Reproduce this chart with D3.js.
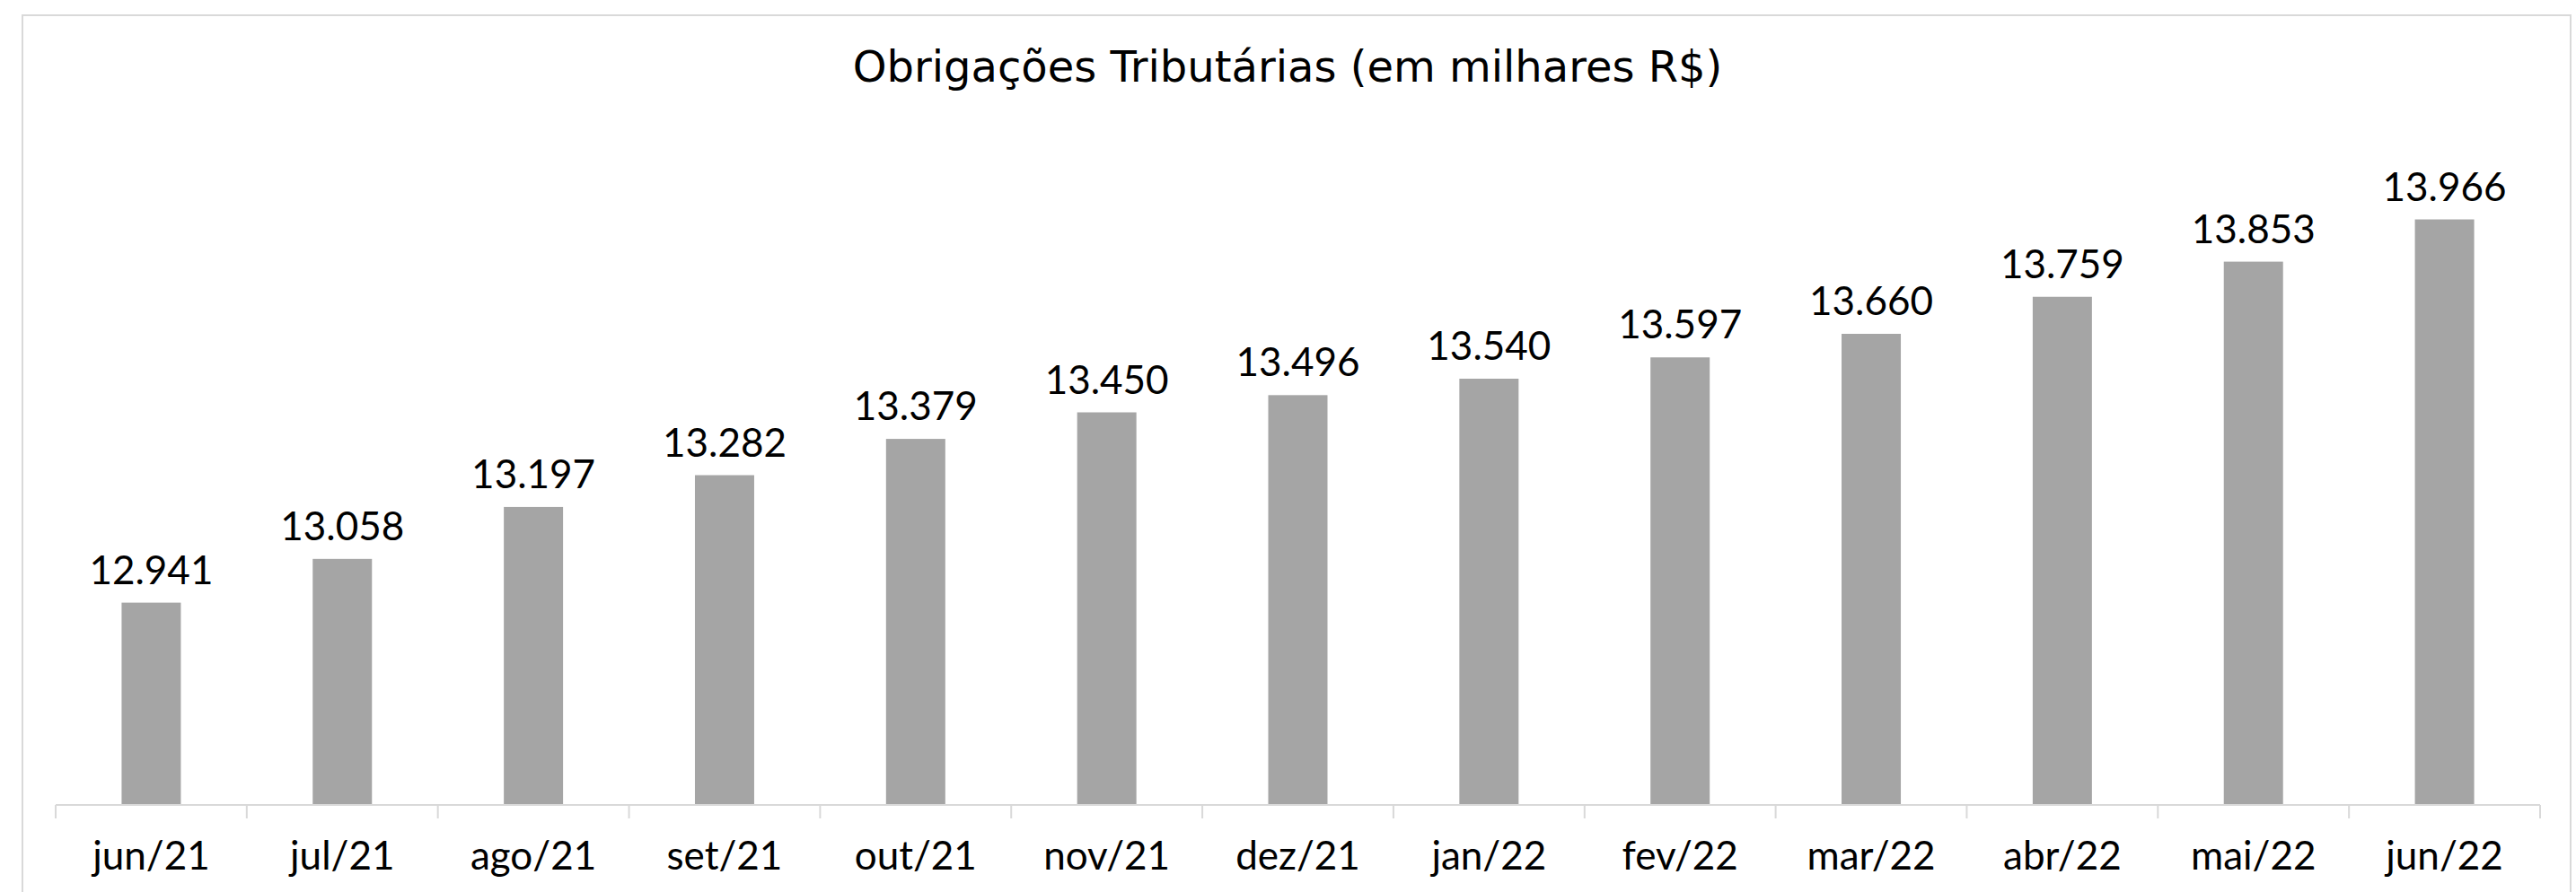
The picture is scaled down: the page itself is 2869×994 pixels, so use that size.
<!DOCTYPE html>
<html>
<head>
    <meta charset="utf-8">
    <title>Obrigações Tributárias</title>
    <style>
        body {
            margin: 0;
            background: #ffffff;
        }
        svg {
            display: block;
        }
        .bar {
            fill: #a5a5a5;
        }
        .axis path, .axis line {
            stroke: #d9d9d9;
            stroke-width: 2px;
        }
        .axis text {
            font-family: Lato, sans-serif;
            font-size: 44px;
            fill: #000000;
        }
        .label {
            font-family: Lato, sans-serif;
            font-size: 44px;
            fill: #000000;
            text-anchor: middle;
        }
        .title {
            font-family: "DejaVu Sans", sans-serif;
            font-size: 48px;
            fill: #000000;
            text-anchor: middle;
        }
    </style>
    <script src="https://cdn.jsdelivr.net/npm/d3@7"></script>
</head>
<body>
<script>
    // data
    const months = ["jun/21", "jul/21", "ago/21", "set/21", "out/21", "nov/21", "dez/21",
        "jan/22", "fev/22", "mar/22", "abr/22", "mai/22", "jun/22"];
    const values = [12941, 13058, 13197, 13282, 13379, 13450, 13496,
        13540, 13597, 13660, 13759, 13853, 13966];
    const yDomain = [12400, 14200];

    const width = 2869,
        height = 994;

    const plot = {left: 62, right: 2829, top: 147, bottom: 897};

    const svg = d3.select('body').append('svg')
        .attr('width', width)
        .attr('height', height);

    // outer frame
    svg.append('rect')
        .attr('x', 25)
        .attr('y', 17)
        .attr('width', 2838)
        .attr('height', 1000)
        .attr('fill', 'none')
        .attr('stroke', '#d9d9d9')
        .attr('stroke-width', 2);

    svg.append('text')
        .attr('class', 'title')
        .attr('x', 1434)
        .attr('y', 91)
        .text('Obrigações Tributárias (em milhares R$)');

    const x = d3.scaleBand()
        .domain(months)
        .range([plot.left, plot.right])
        .padding(0);

    const y = d3.scaleLinear()
        .domain(yDomain)
        .range([plot.bottom, plot.top]);

    const barWidth = x.bandwidth() * 0.31;

    const fmt = d3.formatLocale({decimal: ",", thousands: ".", grouping: [3], currency: ["R$", ""]}).format(",d");

    const rows = months.map((m, i) => ({month: m, value: values[i]}));

    svg.append('g')
        .selectAll('rect')
        .data(rows)
        .enter().append('rect')
        .attr('class', 'bar')
        .attr('x', d => x(d.month) + (x.bandwidth() - barWidth) / 2)
        .attr('width', barWidth)
        .attr('y', d => y(d.value))
        .attr('height', d => y(yDomain[0]) - y(d.value));

    svg.append('g')
        .selectAll('text')
        .data(rows)
        .enter().append('text')
        .attr('class', 'label')
        .attr('x', d => x(d.month) + x.bandwidth() / 2)
        .attr('y', d => y(d.value) - 21)
        .text(d => fmt(d.value));

    // x axis with ticks on category boundaries
    const axis = svg.append('g')
        .attr('class', 'axis')
        .attr('transform', 'translate(0,' + plot.bottom + ')');

    axis.append('line')
        .attr('x1', plot.left)
        .attr('x2', plot.right);

    const bounds = months.map(m => x(m)).concat([plot.right]);
    axis.selectAll('line.tick')
        .data(bounds)
        .enter().append('line')
        .attr('class', 'tick')
        .attr('x1', d => d)
        .attr('x2', d => d)
        .attr('y1', 0)
        .attr('y2', 15);

    axis.selectAll('text')
        .data(months)
        .enter().append('text')
        .attr('x', d => x(d) + x.bandwidth() / 2)
        .attr('y', 72)
        .attr('text-anchor', 'middle')
        .text(d => d);
</script>
</body>
</html>
